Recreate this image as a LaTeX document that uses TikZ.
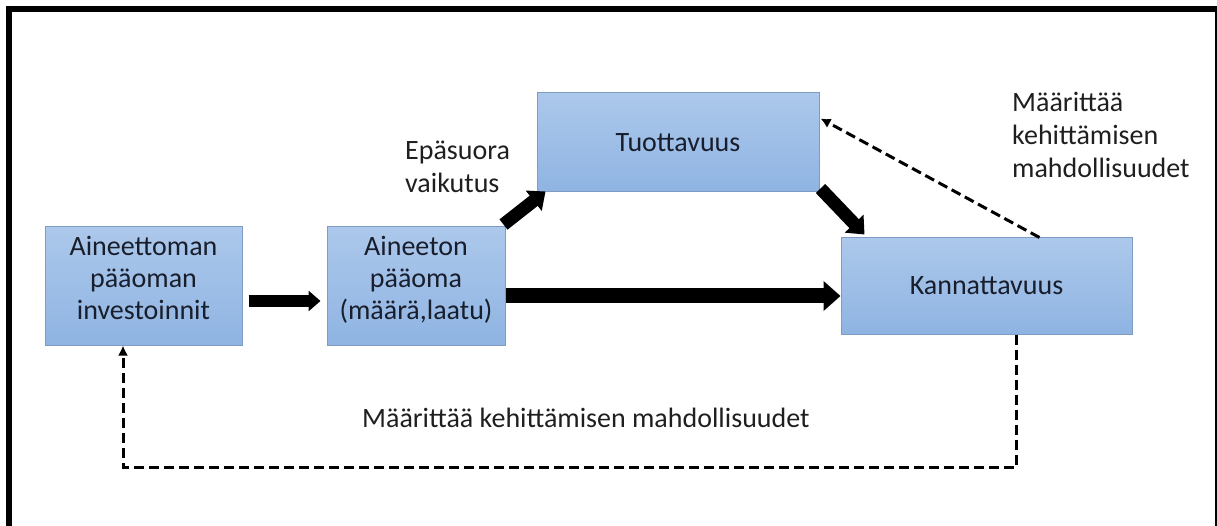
\documentclass[tikz,border=0pt]{standalone}
\usepackage{fontspec}
\setmainfont{Carlito}
\usepackage{tikz}
\usetikzlibrary{arrows.meta, positioning, calc}
\definecolor{boxtop}{RGB}{172,200,235}
\definecolor{boxbot}{RGB}{143,180,226}
\definecolor{boxline}{RGB}{125,155,195}
\definecolor{boxtext}{RGB}{24,30,44}
\tikzset{
  comp/.style={rectangle, draw=boxline, line width=1pt,
               top color=boxtop, bottom color=boxbot,
               align=center, text=boxtext, inner sep=0pt,
               font=\fontsize{28}{32}\selectfont},
  tall/.style={comp, minimum height=118pt, text depth=17pt},
  lbl/.style={align=left, text=black!88, inner sep=0pt,
              font=\fontsize{28}{33}\selectfont},
  bigarr/.style={line width=15pt, -{Triangle[width=29pt,length=17pt]}},
  smallarr/.style={line width=12pt, -{Triangle[width=20pt,length=12pt]}},
  diagarr/.style={line width=13pt, -{Triangle[width=25pt,length=15pt]}},
  dasharr/.style={line width=3pt, dash pattern=on 10pt off 5pt,
                  -{Latex[width=10pt,length=10pt]}},
}

\begin{document}
\begin{tikzpicture}[x=1pt, y=-1pt]
  \useasboundingbox (0,0) rectangle (1217,526);
  % frame
  \draw[line width=6pt] (9,530) -- (9,9) -- (1222,9);
  \draw[line width=2pt] (1216,9) -- (1216,530);

  % boxes
  \node[tall, minimum width=197pt] (inv) at (143.5,286)
    {Aineettoman\\pääoman\\investoinnit};
  \node[tall, minimum width=178pt, right=84pt of inv] (cap)
    {Aineeton\\pääoma\\(määrä,laatu)};
  \node[comp, minimum width=282pt, minimum height=99pt] (prod) at (678,142.5)
    {Tuottavuus};
  \node[comp, minimum width=291pt, minimum height=96pt] (prof) at (986.5,286)
    {Kannattavuus};

  % labels
  \node[lbl, anchor=west] (indir) at (405,167) {Epäsuora\\vaikutus};
  \node[lbl, anchor=west] (deftop) at (1012,135) {Määrittää\\kehittämisen\\mahdollisuudet};
  \node[lbl, anchor=west] (defbot) at (362,418) {Määrittää kehittämisen mahdollisuudet};

  % thick arrows
  \draw[smallarr] ($(inv.east)+(6,15)$) -- ($(cap.west)+(-6,15)$);
  \draw[bigarr] ($(cap.east)+(0,10)$) -- ($(prof.west)+(0,10)$);
  \draw[diagarr] ($(cap.north east)+(-2,-2)$) -- ($(prod.south west)+(9,-1)$);
  \draw[diagarr] ($(prod.south east)+(1,-4)$) -- ($(prof.north west)+(24,-3)$);

  % feedback
  \draw[dasharr] ($(prof.north west)+(199,0)$) -- ($(prod.north east)+(1,26)$);
  \coordinate (fbr) at (1016,467);
  \coordinate (fbl) at (123,467);
  \draw[dasharr] (prof.south -| fbr) -- (fbr) -- (fbl) -- (inv.south -| fbl);
\end{tikzpicture}
\end{document}
